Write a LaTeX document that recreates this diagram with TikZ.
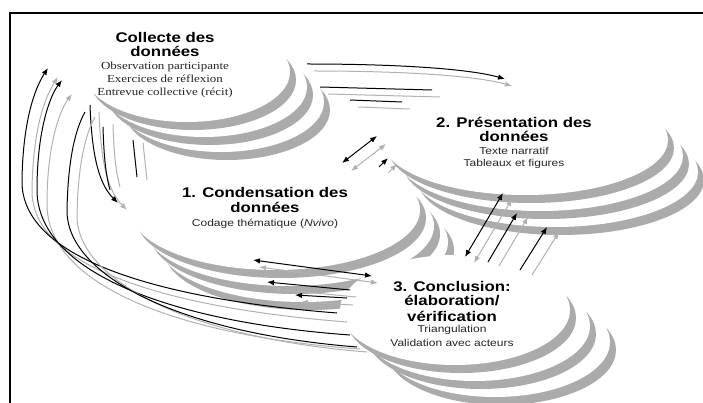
\documentclass[tikz,border=0pt]{standalone}
\usepackage{fontspec}
\usetikzlibrary{arrows.meta}
\newfontfamily\hdfont{Liberation Sans}[FakeStretch=1.2]
\newfontfamily\serfont{Liberation Serif}[FakeStretch=1.2]
\newcommand{\mystack}[6]{%
  \foreach \k in {2,1,0}{%
    \fill[cres] ({#1+\k*#5+6},{#2+\k*#6+8}) ellipse [x radius=#3pt, y radius=#4pt];
    \fill[white] ({#1+\k*#5},{#2+\k*#6}) ellipse [x radius=#3pt, y radius=#4pt];
  }}
\newcommand{\sarr}[3][->]{%
  \begin{scope}[transform canvas={shift={#2}}]\draw[shd,#1] #3;\end{scope}
  \draw[blk,#1] #3;}
\begin{document}
\begin{tikzpicture}[x=1pt,y=-1pt,
  >={Latex[length=7pt,width=5.5pt]},
  cres/.style={fill=black!33},
  hd/.style={font=\hdfont\bfseries\fontsize{14}{14}\selectfont, inner sep=0pt, anchor=base},
  sub/.style={font=\hdfont\fontsize{10}{10}\selectfont, inner sep=0pt, anchor=base, text=black!85},
  ssub/.style={font=\serfont\fontsize{10.8}{11}\selectfont, inner sep=0pt, anchor=base, text=black!85},
  blk/.style={draw=black, line width=1pt},
  shd/.style={draw=black!30, line width=1pt},
  frame/.style={draw=black, line width=2pt}]
\useasboundingbox (0,0) rectangle (703,403);
\fill[white] (0,0) rectangle (703,403);
% stacks: C, B, D, A
\mystack{275}{210}{145}{60}{14}{16}
\mystack{525}{140}{143}{55}{15}{16}
\mystack{455}{310}{115}{55}{20}{16}
\mystack{187}{72}{103}{50}{17}{15}
% texts
\node[hd] (a1) at (165,43) {Collecte des};
\node[hd] (a2) at (165,57) {données};
\node[ssub] (a3) at (165,70) {Observation participante};
\node[ssub] (a4) at (165,83) {Exercices de réflexion};
\node[ssub] (a5) at (165,96) {Entrevue collective (récit)};
\node[hd] (b1) at (514,128) {2. Présentation des};
\node[hd] (b2) at (514,142) {données};
\node[sub] (b3) at (514,155) {Texte narratif};
\node[sub] (b4) at (514,167) {Tableaux et figures};
\node[hd] (c1) at (265,198) {1. Condensation des};
\node[hd] (c2) at (265,212) {données};
\node[sub] (c3) at (265,226) {Codage thématique (\textit{Nvivo})};
\node[hd] (d1) at (452,291) {3. Conclusion:};
\node[hd] (d2) at (452,305) {élaboration/};
\node[hd] (d3) at (452,321) {vérification};
\node[sub] (d4) at (452,332) {Triangulation};
\node[sub] (d5) at (452,346) {Validation avec acteurs};
% A -> B
\sarr[->]{(7,7)}{(307,64) .. controls (400,64) and (470,69) .. (505,79)}
\sarr[-]{(8,7)}{(320,87) -- (432,90)}
\sarr[-]{(8,7)}{(350,100) -- (402,102)}
% C <-> B
\sarr[<->]{(9,8)}{(342,163) -- (377,136)}
\sarr[->]{(9,6)}{(379,167) -- (388,158)}
% D <-> B
\sarr[<->]{(9,6)}{(465,257) -- (503,193)}
\sarr[->]{(11,4)}{(488,262) -- (517,213)}
\sarr[->]{(12,5)}{(520,270) -- (547,227)}
% C <-> D
\sarr[<->]{(6,7)}{(253,260) -- (372,276)}
\sarr[->]{(6,7)}{(350,290) -- (267,282)}
\sarr[->]{(6,7)}{(347,298) -- (295,295)}
% A -> C
\sarr[->]{(9,7)}{(90,105) .. controls (92,160) and (100,185) .. (118,203)}
\sarr[-]{(10,-3)}{(103,127) .. controls (104,160) and (106,175) .. (110,190)}
\sarr[-]{(10,3)}{(133,140) -- (137,177)}
% D -> A loops
\sarr[->]{(10,9)}{(337,313) .. controls (170,300) and (20,262) .. (22,180) .. controls (23,120) and (35,88) .. (48,68)}
\sarr[->]{(10,14)}{(350,335) .. controls (170,322) and (37,272) .. (37,190) .. controls (37,130) and (50,96) .. (62,80)}
\sarr[-]{(10,5)}{(357,347) .. controls (170,332) and (66,272) .. (67,210) .. controls (68,160) and (75,130) .. (85,112)}
% frame
\draw[frame] (10,403) -- (10,13) -- (703,13);
\end{tikzpicture}
\end{document}
